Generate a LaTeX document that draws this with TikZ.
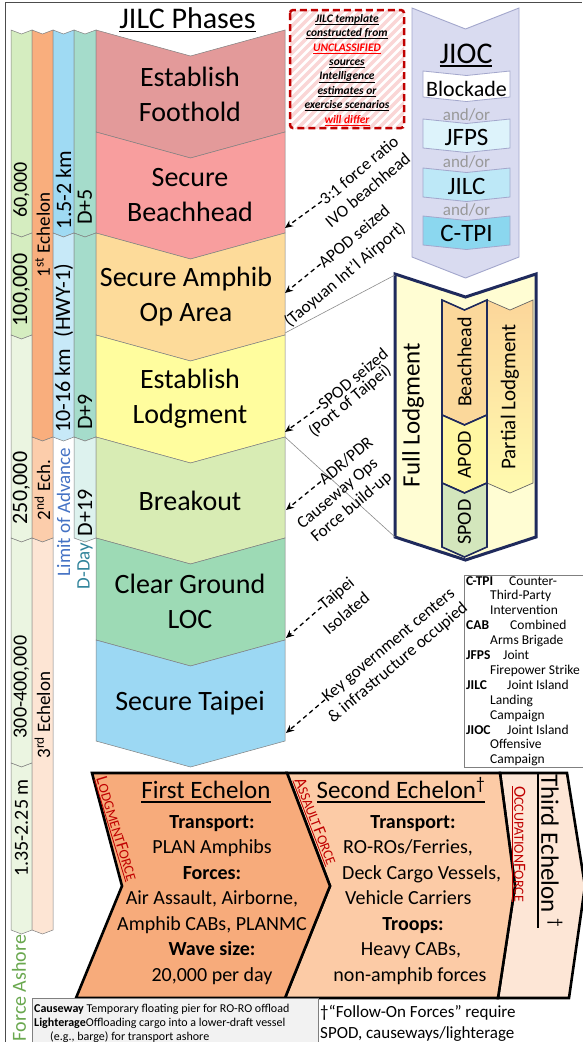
\documentclass[tikz,border=0pt]{standalone}
\usepackage{fontspec}
\setmainfont{Carlito}
\usetikzlibrary{arrows.meta}

% phase colours
\definecolor{phA}{HTML}{E39A9A}
\definecolor{phB}{HTML}{F89E9E}
\definecolor{phC}{HTML}{FDDB9A}
\definecolor{phD}{HTML}{FFFD9E}
\definecolor{phE}{HTML}{D8ECB4}
\definecolor{phF}{HTML}{9DDAB5}
\definecolor{phG}{HTML}{9CD8F3}
% side columns
\definecolor{popA}{HTML}{D5EDC0}
\definecolor{popB}{HTML}{EBF5E1}
\definecolor{echA}{HTML}{F9AE7D}
\definecolor{echB}{HTML}{FCCDAB}
\definecolor{echC}{HTML}{FDE5D4}
\definecolor{kmA}{HTML}{9FDAF3}
\definecolor{kmB}{HTML}{C7E9F8}
\definecolor{dayA}{HTML}{A5DCCB}
\definecolor{dayB}{HTML}{DDF2EE}
\definecolor{advblue}{HTML}{4472C4}
\definecolor{dayteal}{HTML}{31849B}
\definecolor{ashgreen}{HTML}{6AA84F}
% JIOC
\definecolor{jioc}{HTML}{D9DBF0}
\definecolor{jiocline}{HTML}{A3A7CC}
\definecolor{jfps}{HTML}{DDF3FB}
\definecolor{jilc}{HTML}{BDE8F7}
\definecolor{ctpi}{HTML}{8BD7EF}
% lodgment
\definecolor{navy}{HTML}{1F2A5C}
\definecolor{lodgfill}{HTML}{FFFDD3}
\definecolor{beach}{HTML}{FBD89B}
\definecolor{apod}{HTML}{FFF7A2}
\definecolor{spod}{HTML}{D3E6BC}
\definecolor{partTop}{HTML}{FCD69A}
\definecolor{partBot}{HTML}{FFFBB0}
% echelons
\definecolor{eOne}{HTML}{F7AB7B}
\definecolor{eTwo}{HTML}{FCCBA6}
\definecolor{eThree}{HTML}{FDE6D6}
\definecolor{forcered}{HTML}{C00000}
\definecolor{brightred}{HTML}{FF0000}
\definecolor{stripe}{HTML}{FAD6D6}

% underline with adjustable thickness and drop
\newsavebox\ulbox
\newcommand{\ulx}[3]{\sbox\ulbox{#3}\leavevmode\rlap{\rule[-#2]{\wd\ulbox}{#1}}\usebox\ulbox}
\newcommand{\fs}[1]{\fontsize{#1}{#1}\selectfont}
% fake small caps: big initial, smaller rest
\newcommand{\sci}[2]{{\fs{17}#1}{\fs{14}#2}}

% downward chevron: style, x0, x1, top edge y, bottom edge y, depth
\newcommand{\vchev}[6]{\path[#1] (#2,#4) -- ({(#2+#3)/2},{#4+#6}) -- (#3,#4) -- (#3,#5) -- ({(#2+#3)/2},{#5+#6}) -- (#2,#5) -- cycle;}

\begin{document}
\begin{tikzpicture}[x=1pt,y=-1pt,
  seg/.style={draw=black!50, line width=0.5pt},
  phasetext/.style={font=\fontsize{28}{35}\selectfont, align=center, inner sep=0pt},
  coltext/.style={rotate=90, inner sep=0pt},
  notetext/.style={rotate=40, inner sep=0pt, font=\fontsize{17}{17}\selectfont},
  tagarrow/.style={dash pattern=on 4.5pt off 3.5pt, line width=1.3pt, -{Stealth[length=8pt,width=7pt]}},
  feeder/.style={black!45, line width=0.6pt},
  jbox/.style={draw=jiocline, line width=0.8pt},
  jlab/.style={font=\fontsize{25}{25}\selectfont, inner sep=0pt},
  andor/.style={font=\fontsize{17}{17}\selectfont, text=black!40, inner sep=0pt},
  lodbox/.style={draw=navy, line width=1.6pt, line join=miter},
  lodtext/.style={rotate=90, inner sep=0pt, font=\fontsize{20}{20}\selectfont},
  echbox/.style={draw=black, line width=2.6pt, line join=miter},
  ebody/.style={font=\fontsize{20}{20}\selectfont, inner sep=0pt, anchor=base},
  ehead/.style={font=\fontsize{20}{20}\selectfont\bfseries, inner sep=0pt, anchor=base},
  etitle/.style={font=\fontsize{25}{25}\selectfont, inner sep=0pt, anchor=base},
  forcetag/.style={text=forcered, inner sep=0pt},
  legtext/.style={font=\fontsize{13.5}{13.5}\selectfont, inner sep=0pt, anchor=base west},
]
\useasboundingbox (0,0) rectangle (582,1042);
\fill[white] (0,0) rectangle (582,1042);
\draw[black!70, line width=0.8pt] (5,1042) -- (5,2) -- (582,2);

% ---------- side columns ----------
\vchev{fill=popA,seg}{11}{32}{30}{233}{4}
\vchev{fill=popA,seg}{11}{32}{233}{335}{4}
\vchev{fill=popB,seg}{11}{32}{335}{538}{4}
\vchev{fill=popB,seg}{11}{32}{538}{763}{4}
\vchev{fill=popB,seg}{11}{32}{763}{930}{4}

\vchev{fill=echA,seg}{32}{53}{30}{437}{4}
\vchev{fill=echB,seg}{32}{53}{437}{538}{4}
\vchev{fill=echC,seg}{32}{53}{538}{930}{4}

\vchev{fill=kmA,seg}{53}{74}{30}{233}{4}
\vchev{fill=kmB,seg}{53}{74}{233}{437}{4}

\vchev{fill=dayA,seg}{74}{96}{30}{233}{4}
\vchev{fill=dayA,seg}{74}{96}{233}{437}{4}
\vchev{fill=dayB,seg}{74}{96}{437}{538}{4}

\node[coltext, font=\fs{20}] (pop1) at (21.5,190) {60,000};
\node[coltext, font=\fs{22}] (pop2) at (21.5,290) {100,000};
\node[coltext, font=\fs{22}] (pop3) at (21.5,488) {250,000};
\node[coltext, font=\fs{20}] (pop4) at (21.5,687) {300-400,000};
\node[coltext, font=\fs{20}] (pop5) at (21.5,828) {1.35-2.25 m};
\node[coltext, font=\fs{20}, text=ashgreen] (popLab) at (19,988) {Force Ashore};

\node[coltext, font=\fs{19}] (ech1) at (42.5,235) {1\textsuperscript{st} Echelon};
\node[coltext, font=\fs{19}] (ech2) at (42.5,490) {2\textsuperscript{nd} Ech.};
\node[coltext, font=\fs{19}] (ech3) at (42.5,715) {3\textsuperscript{rd} Echelon};

\node[coltext, font=\fs{22}] (km1) at (63.5,190) {1.5-2 km};
\node[coltext, font=\fs{22}] (km2) at (63.5,348) {10-16 km\enspace(HWY-1)};
\node[coltext, font=\fs{19}, text=advblue] (kmLab) at (63.5,512) {Limit of Advance};

\node[coltext, font=\fs{22}] (day1) at (85,207) {D+5};
\node[coltext, font=\fs{22}] (day2) at (85,412) {D+9};
\node[coltext, font=\fs{22}] (day3) at (85,513) {D+19};
\node[coltext, font=\fs{19}, text=dayteal] (dayLab) at (85,566) {D-Day};

% ---------- JILC phases ----------
\node[font=\fs{30}, inner sep=0pt, anchor=base] (title) at (187.5,28) {\ulx{1.5pt}{4pt}{JILC Phases}};
\foreach \yt/\yb/\c in {30/132/phA,132/233/phB,233/335/phC,335/437/phD,437/538/phE,538/640/phF,640/741/phG}
  {\vchev{fill=\c,seg}{96}{285}{\yt}{\yb}{26}}
\node[phasetext] (ph1) at (190,94) {Establish\\Foothold};
\node[phasetext] (ph2) at (190,195.5) {Secure\\Beachhead};
\node[phasetext] (ph3) at (186,297) {Secure Amphib\\Op Area};
\node[phasetext] (ph4) at (190,399) {Establish\\Lodgment};
\node[phasetext] (ph5) at (190,500.5) {Breakout};
\node[phasetext] (ph6) at (190,601) {Clear Ground\\LOC};
\node[phasetext] (ph7) at (190,703.5) {Secure Taipei};

% ---------- source caveat ----------
\begin{scope}
  \clip (290,10) rectangle (404,128);
  \fill[white] (290,10) rectangle (404,128);
  \foreach \k in {0,...,27} \draw[stripe, line width=3.5pt] ({170+9*\k},130) -- ++(122,-122);
\end{scope}
\draw[forcered, line width=2.5pt, dash pattern=on 7pt off 4pt, rounded corners=3pt] (290,10) rectangle (404,128);
\node[align=center, inner sep=0pt, font=\fontsize{11.5}{14.4}\selectfont\bfseries\itshape] (caveat) at (347,70)
  {\ulx{0.9pt}{2.5pt}{JILC template}\\
   \ulx{0.9pt}{2.5pt}{constructed from}\\
   \textcolor{brightred}{\ulx{0.9pt}{2.5pt}{UNCLASSIFIED}}\\
   \ulx{0.9pt}{2.5pt}{sources}\\
   \ulx{0.9pt}{2.5pt}{Intelligence}\\
   \ulx{0.9pt}{2.5pt}{estimates or}\\
   \ulx{0.9pt}{2.5pt}{exercise scenarios}\\
   \textcolor{brightred}{\ulx{0.9pt}{2.5pt}{will differ}}};

% ---------- JIOC ----------
\vchev{fill=jioc, draw=jiocline, line width=0.9pt}{412}{519}{8}{257}{21}
\node[font=\fs{30}, inner sep=0pt, anchor=base] (jiocT) at (466,63) {\ulx{1.5pt}{3.5pt}{JIOC}};
\vchev{fill=white,jbox}{423}{510}{71}{97}{4.5}
\vchev{fill=jfps,jbox}{423}{510}{119}{148}{4.5}
\vchev{fill=jilc,jbox}{423}{510}{168}{197}{4.5}
\vchev{fill=ctpi,jbox}{423}{510}{216}{245}{4.5}
\node[jlab, font=\fs{22}] (jBlk) at (466.5,89) {Blockade};
\node[jlab] (jFps) at (466.5,137) {JFPS};
\node[jlab] (jIlc) at (466.5,186) {JILC};
\node[jlab] (jTpi) at (466.5,233) {C-TPI};
\node[andor] (or1) at (466.5,115) {and/or};
\node[andor] (or2) at (466.5,162) {and/or};
\node[andor] (or3) at (466.5,210) {and/or};

% ---------- lodgment ----------
\vchev{fill=lodgfill, draw=navy, line width=3pt, line join=miter}{395}{536}{274}{537}{23}
\vchev{top color=partTop, bottom color=partBot, draw=black!60, line width=0.7pt}{487}{533}{300}{483}{10}
\vchev{fill=beach,lodbox}{442}{487}{300}{415}{10}
\vchev{fill=apod,lodbox}{442}{487}{415}{483}{10}
\vchev{fill=spod,lodbox}{442}{487}{483}{547}{10}
\node[lodtext, font=\fs{25}] (fullL) at (413,415) {Full Lodgment};
\node[lodtext] (lBeach) at (464.5,362) {Beachhead};
\node[lodtext] (lApod) at (464.5,455) {APOD};
\node[lodtext] (lSpod) at (464.5,522) {SPOD};
\node[lodtext, font=\fs{21}] (lPart) at (510,397) {Partial Lodgment};

\coordinate (flTop) at (395,275);
\coordinate (flBot) at (395,537);
\coordinate (edgeC) at (285,333);
\coordinate (edgeE) at (285,437);
\draw[feeder] (flTop) -- (edgeC);
\draw[feeder] (flBot) -- (edgeE);

% ---------- abbreviations ----------
\begin{scope}
  \clip (464,575) rectangle (590,767);
  \fill[white] (464,575) rectangle (590,767);
  \node[legtext] (a1) at (466,585) {\textbf{C-TPI}};
  \node[legtext] (a1d) at (509,585) {Counter-};
  \node[legtext] (a1e) at (490,599.9) {Third-Party};
  \node[legtext] (a1f) at (490,614.8) {Intervention};
  \node[legtext] (a2) at (466,629.7) {\textbf{CAB}};
  \node[legtext] (a2d) at (510,629.7) {Combined};
  \node[legtext] (a2e) at (490,644.6) {Arms Brigade};
  \node[legtext] (a3) at (466,659.5) {\textbf{JFPS}};
  \node[legtext] (a3d) at (503,659.5) {Joint};
  \node[legtext] (a3e) at (490,674.4) {Firepower Strike};
  \node[legtext] (a4) at (466,689.3) {\textbf{JILC}};
  \node[legtext] (a4d) at (507,689.3) {Joint Island};
  \node[legtext] (a4e) at (490,704.2) {Landing};
  \node[legtext] (a4f) at (490,719.1) {Campaign};
  \node[legtext] (a5) at (466,734) {\textbf{JIOC}};
  \node[legtext] (a5d) at (507,734) {Joint Island};
  \node[legtext] (a5e) at (490,748.9) {Offensive};
  \node[legtext] (a5f) at (490,763.8) {Campaign};
\end{scope}
\draw[black!50, line width=0.6pt] (590,575) -- (464,575) -- (464,767) -- (590,767);

% ---------- milestone notes ----------
\coordinate (tip1) at (285,228);
\coordinate (tip2) at (285,293);
\coordinate (tip3) at (285,432);
\coordinate (tip4) at (286,510);
\coordinate (tip5) at (286,638);
\coordinate (tip6) at (286,733);

\node[notetext] (n1a) at (359,170) {3:1 force ratio};
\node[notetext] (n1b) at (367.5,190) {IVO beachhead};
\node[notetext] (n2a) at (354,236) {APOD seized};
\node[notetext] (n2b) at (345,275) {(Taoyuan Int’l Airport)};
\node[notetext] (n3a) at (353,379) {SPOD seized};
\node[notetext] (n3b) at (350,401) {(Port of Taipei)};
\node[notetext] (n4a) at (345.7,460.7) {ADR/PDR};
\node[notetext] (n4b) at (338,494) {Causeway Ops};
\node[notetext] (n4c) at (351.7,507.5) {Force build-up};
\node[notetext] (n5a) at (337,594) {Taipei};
\node[notetext] (n5b) at (346,613) {Isolated};
\node[notetext] (n6a) at (389,646) {Key government centers};
\node[notetext] (n6b) at (398,663) {\& infrastructure occupied};

\draw[tagarrow] (n1a.west) -- (tip1);
\draw[tagarrow] (n2a.west) -- (tip2);
\draw[tagarrow] (n3a.west) -- (tip3);
\draw[tagarrow] (n4a.west) -- (tip4);
\draw[tagarrow] (n5a.west) -- (tip5);
\draw[tagarrow] (n6a.west) -- (tip6);

% ---------- echelons ----------
\path[fill=eThree, echbox] (500,773) -- (567,773) -- (585,886) -- (569,998) -- (498,998) -- (515,886) -- cycle;
\path[fill=eTwo, echbox] (287,773) -- (500,773) -- (515,886) -- (498,998) -- (285,998) -- (330,886) -- cycle;
\path[fill=eOne, echbox] (92,773) -- (287,773) -- (330,886) -- (285,998) -- (76,998) -- (122,886) -- cycle;

\node[etitle] (e1t) at (206,798.5) {\ulx{1.2pt}{4pt}{First Echelon}};
\node[ehead] (e1a) at (212,828) {Transport:};
\node[ebody] (e1b) at (212,853.5) {PLAN Amphibs};
\node[ehead] (e1c) at (212,879) {Forces:};
\node[ebody] (e1d) at (212,904.5) {Air Assault, Airborne,};
\node[ebody] (e1e) at (212,930) {Amphib CABs, PLANMC};
\node[ehead] (e1f) at (212,955.5) {Wave size:};
\node[ebody] (e1g) at (212,981) {20,000 per day};

\node[etitle] (e2t) at (401,798.5) {\ulx{1.2pt}{4pt}{Second Echelon\textsuperscript{†}}};
\node[ehead] (e2a) at (413,828) {Transport:};
\node[ebody, anchor=base west] (e2b) at (343,853.5) {RO-ROs/Ferries,};
\node[ebody, anchor=base west] (e2c) at (342,879) {Deck Cargo Vessels,};
\node[ebody, anchor=base west] (e2d) at (345,904.5) {Vehicle Carriers};
\node[ehead] (e2e) at (413,930) {Troops:};
\node[ebody] (e2f) at (411,955.5) {Heavy CABs,};
\node[ebody] (e2g) at (410,981) {non-amphib forces};

\node[etitle, anchor=center, rotate=-90] (e3t) at (550,851) {\ulx{1.2pt}{4pt}{Third Echelon \textsuperscript{†}}};

\node[forcetag, rotate=-73] (f1) at (116,829) {\ulx{0.8pt}{2pt}{\sci{L}{ODGMENT}\sci{F}{ORCE}}};
\node[forcetag, rotate=-69] (f2) at (315,821.5) {\ulx{0.8pt}{2pt}{\sci{A}{SSAULT} \sci{F}{ORCE}}};
\node[forcetag, rotate=-90] (f3) at (519,844) {\ulx{0.8pt}{2pt}{\sci{O}{CCUPATION}\sci{F}{ORCE}}};

% ---------- footnotes ----------
\path[fill=black!5, draw=black!50, line width=0.6pt] (32,998) rectangle (318,1050);
\node[inner sep=0pt, anchor=base west, font=\fs{12}] (fn1) at (34,1012) {\textbf{Causeway} Temporary floating pier for RO-RO offload};
\node[inner sep=0pt, anchor=base west, font=\fs{12}] (fn2) at (34,1026) {\textbf{Lighterage}Offloading cargo into a lower-draft vessel};
\node[inner sep=0pt, anchor=base west, font=\fs{12}] (fn3) at (50,1040) {(e.g., barge) for transport ashore};
\node[inner sep=0pt, anchor=base west, font=\fs{17}] (fn4) at (320,1017) {†“Follow-On Forces” require};
\node[inner sep=0pt, anchor=base west, font=\fs{17}] (fn5) at (320,1038) {SPOD, causeways/lighterage};
\end{tikzpicture}
\end{document}
